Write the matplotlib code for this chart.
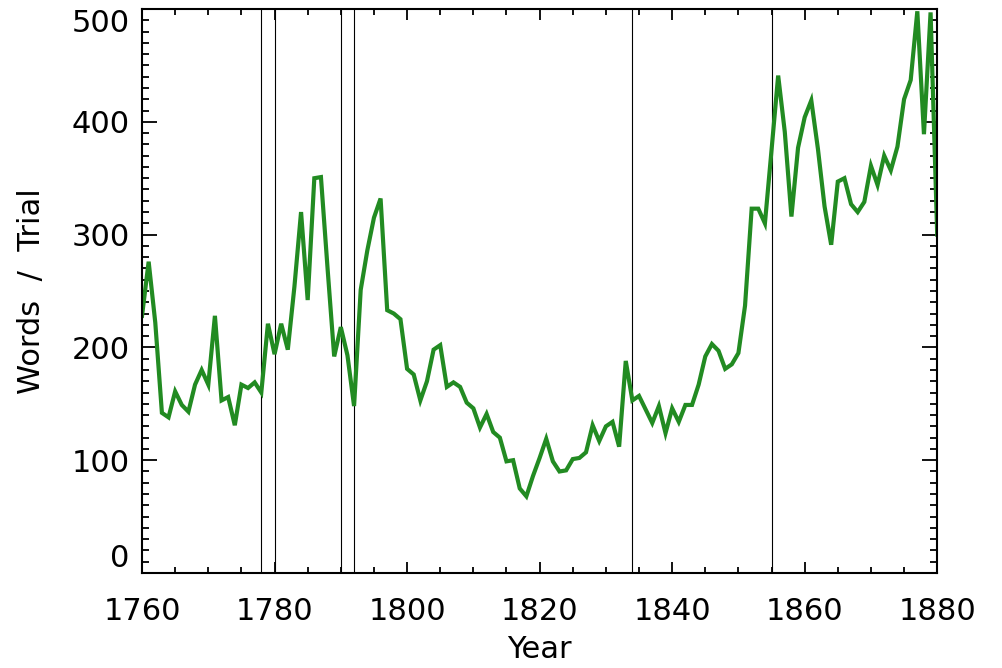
#!/usr/bin/env python3
import numpy as np
import matplotlib
matplotlib.use("Agg")
import matplotlib.pyplot as plt
from matplotlib.ticker import MultipleLocator

# yearly average length of a trial record, 1760-1880
years = np.arange(1760, 1881)
words_per_trial = [
    228, 276, 222, 142, 138, 161, 149, 143, 167, 180,   # 1760s
    167, 228, 153, 156, 131, 167, 164, 169, 160, 221,   # 1770s
    194, 221, 198, 254, 320, 242, 350, 351, 270, 192,   # 1780s
    218, 193, 148, 251, 286, 315, 332, 233, 230, 225,   # 1790s
    181, 176, 153, 170, 198, 202, 165, 169, 165, 151,   # 1800s
    146, 129, 141, 125, 120, 99, 100, 75, 68, 86,       # 1810s
    102, 119, 99, 90, 91, 101, 102, 107, 131, 117,      # 1820s
    130, 134, 112, 188, 153, 157, 145, 133, 148, 124,   # 1830s
    146, 134, 149, 149, 167, 192, 203, 197, 181, 185,   # 1840s
    195, 237, 323, 323, 310, 375, 441, 391, 316, 377,   # 1850s
    404, 419, 376, 325, 291, 347, 350, 327, 320, 329,   # 1860s
    361, 344, 370, 357, 378, 420, 437, 498, 389, 497,   # 1870s
    300,                                                # 1880
]
# years marked with reference lines
marker_years = [1778, 1780, 1790, 1792, 1834, 1855]
x_ticks = [1760, 1780, 1800, 1820, 1840, 1860, 1880]
y_ticks = [0, 100, 200, 300, 400, 500]

plt.rcParams["font.family"] = ["DejaVu Sans"]

def main():
    fig = plt.figure(figsize=(10.03, 6.68), dpi=100)
    ax = fig.add_axes([0.1416, 0.1422, 0.7928, 0.8443])

    for yr in marker_years:
        ax.axvline(yr, color="black", lw=0.8, zorder=1)

    ax.plot(years, words_per_trial, color="#228B22", lw=3, zorder=2,
            solid_joinstyle="miter")

    ax.set_xticks(x_ticks, [str(v) for v in x_ticks])
    ax.set_yticks(y_ticks, [str(v) for v in y_ticks])
    ax.xaxis.set_minor_locator(MultipleLocator(5))
    ax.yaxis.set_minor_locator(MultipleLocator(10))
    ax.set_xlim(1760, 1880)
    ax.set_ylim(0, 500)

    ax.tick_params(axis="both", which="both", direction="in",
                   top=True, right=True, width=1.3, labelsize=22)
    ax.tick_params(axis="x", which="major", length=8, pad=17)
    ax.tick_params(axis="x", which="minor", length=4.5)
    ax.tick_params(axis="y", which="major", length=10.8, pad=9)
    ax.tick_params(axis="y", which="minor", length=5)

    for sp in ax.spines.values():
        sp.set_linewidth(1.5)

    ax.set_xlabel("Year", fontsize=22, labelpad=7)
    ax.set_ylabel("Words  /  Trial", fontsize=22, labelpad=18)

    # keep the end labels inside the frame
    yt = ax.yaxis.get_major_ticks()
    yt[0].label1.set_va("bottom")
    yt[-1].label1.set_va("top")

    fig.savefig("out.png", dpi=100)

if __name__ == "__main__":
    main()
